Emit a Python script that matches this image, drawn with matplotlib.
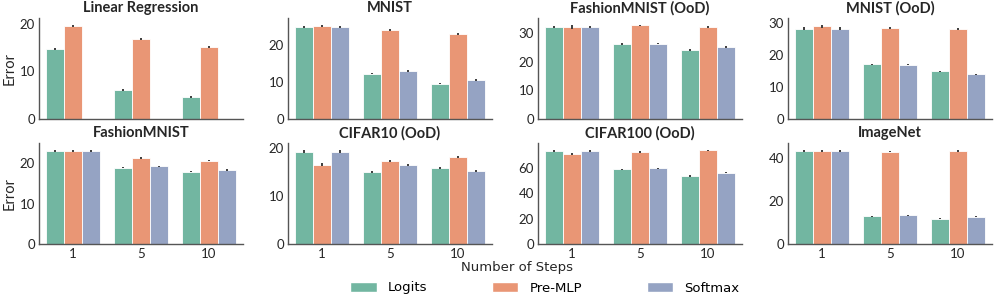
import numpy as np
import matplotlib
matplotlib.use("Agg")
import matplotlib.pyplot as plt
import colorsys
from matplotlib.patches import Patch

steps = ["1", "5", "10"]
methods = ["Logits", "Pre-MLP", "Softmax"]
titles = ["Linear Regression", "MNIST", "FashionMNIST (OoD)", "MNIST (OoD)",
          "FashionMNIST", "CIFAR10 (OoD)", "CIFAR100 (OoD)", "ImageNet"]

# values[panel] = [Logits, Pre-MLP, Softmax] each over steps 1, 5, 10
linreg_logits = [14.7, 6.1, 4.6]
linreg_premlp = [19.6, 16.8, 15.1]
linreg_softmax = [np.nan, np.nan, np.nan]

mnist_logits = [25.0, 12.3, 9.6]
mnist_premlp = [25.3, 24.1, 23.1]
mnist_softmax = [25.0, 13.0, 10.6]

fmnist_ood_logits = [32.0, 26.1, 24.0]
fmnist_ood_premlp = [32.0, 32.6, 32.1]
fmnist_ood_softmax = [32.0, 26.3, 25.1]

mnist_ood_logits = [28.3, 17.2, 15.0]
mnist_ood_premlp = [29.1, 28.6, 28.1]
mnist_ood_softmax = [28.3, 17.0, 14.0]

fmnist_logits = [23.1, 19.0, 18.0]
fmnist_premlp = [23.2, 21.4, 20.7]
fmnist_softmax = [23.1, 19.3, 18.4]

cifar10_ood_logits = [19.2, 14.9, 15.7]
cifar10_ood_premlp = [16.5, 17.3, 18.1]
cifar10_ood_softmax = [19.2, 16.4, 15.2]

cifar100_ood_logits = [73.6, 59.3, 53.8]
cifar100_ood_premlp = [71.5, 72.8, 74.1]
cifar100_ood_softmax = [73.6, 60.0, 56.4]

imagenet_logits = [43.4, 12.9, 11.8]
imagenet_premlp = [43.4, 43.1, 43.4]
imagenet_softmax = [43.4, 13.4, 12.8]

# error bar half-widths (small)
err_linreg = [[0.2, 0.15, 0.15], [0.2, 0.2, 0.15], [0, 0, 0]]
err_mnist = [[0.35, 0.2, 0.2], [0.3, 0.3, 0.3], [0.35, 0.2, 0.2]]
err_fmnist_ood = [[0.4, 0.25, 0.25], [0.6, 0.3, 0.3], [0.4, 0.25, 0.25]]
err_mnist_ood = [[0.4, 0.2, 0.2], [0.5, 0.4, 0.3], [0.4, 0.2, 0.2]]
err_fmnist = [[0.2, 0.2, 0.2], [0.25, 0.25, 0.2], [0.2, 0.2, 0.15]]
err_cifar10_ood = [[0.4, 0.2, 0.2], [0.25, 0.2, 0.2], [0.4, 0.25, 0.25]]
err_cifar100_ood = [[0.5, 0.4, 0.5], [0.8, 0.5, 0.6], [0.5, 0.5, 0.5]]
err_imagenet = [[0.5, 0.3, 0.3], [0.4, 0.4, 0.6], [0.4, 0.3, 0.3]]

panels = [
    (linreg_logits, linreg_premlp, linreg_softmax, err_linreg),
    (mnist_logits, mnist_premlp, mnist_softmax, err_mnist),
    (fmnist_ood_logits, fmnist_ood_premlp, fmnist_ood_softmax, err_fmnist_ood),
    (mnist_ood_logits, mnist_ood_premlp, mnist_ood_softmax, err_mnist_ood),
    (fmnist_logits, fmnist_premlp, fmnist_softmax, err_fmnist),
    (cifar10_ood_logits, cifar10_ood_premlp, cifar10_ood_softmax, err_cifar10_ood),
    (cifar100_ood_logits, cifar100_ood_premlp, cifar100_ood_softmax, err_cifar100_ood),
    (imagenet_logits, imagenet_premlp, imagenet_softmax, err_imagenet),
]
yticks = [[0, 10, 20], [0, 10, 20], [0, 10, 20, 30], [0, 10, 20, 30],
          [0, 10, 20], [0, 10, 20], [0, 20, 40, 60], [0, 20, 40]]

base = ["#66c2a5", "#fc8d62", "#8da0cb"]
def desat(c, p=0.75):
    r, g, b = matplotlib.colors.to_rgb(c)
    h, l, s = colorsys.rgb_to_hls(r, g, b)
    return colorsys.hls_to_rgb(h, l, s * p)
colors = [desat(c) for c in base]

W, H = 996, 301
fig = plt.figure(figsize=(W / 100, H / 100), dpi=100)
lefts = [39, 288, 538, 788]
aw = 204
rows = [(18, 119), (143, 244)]

tickfont = "Lato"
x = np.arange(3)
bw = 0.8 / 3
for i, (lg, pm, sm, er) in enumerate(panels):
    r, c = divmod(i, 4)
    top, bot = rows[r]
    ax = fig.add_axes([lefts[c] / W, 1 - bot / H, aw / W, (bot - top) / H])
    for k, vals in enumerate([lg, pm, sm]):
        vals = np.array(vals, dtype=float)
        pos = x + (k - 1) * bw
        ax.bar(pos, vals, width=bw, color=colors[k], edgecolor="white",
               linewidth=0.6, zorder=2)
        ok = ~np.isnan(vals)
        ax.errorbar(pos[ok], vals[ok], yerr=np.array(er[k])[ok], fmt="none",
                    ecolor="#3d3d3d", elinewidth=1.4, capsize=0, zorder=3)
    ax.set_xlim(-0.5, 2.5)
    ax.margins(y=0.07)
    ax.set_yticks(yticks[i])
    ax.set_xticks(x)
    if r == 1:
        ax.set_xticklabels(steps, fontfamily=tickfont, fontsize=9.5)
    else:
        ax.set_xticklabels([])
    ax.set_yticklabels([str(t) for t in yticks[i]], fontfamily=tickfont, fontsize=9.5)
    ax.tick_params(length=0, pad=3, colors="#262626")
    for s in ["top", "right"]:
        ax.spines[s].set_visible(False)
    for s in ["left", "bottom"]:
        ax.spines[s].set_color("#555555")
        ax.spines[s].set_linewidth(1.0)
    ax.set_title(titles[i], fontfamily="Lato", fontweight="bold", fontsize=10.5,
                 color="#262626", pad=4)
    if c == 0:
        ax.set_ylabel("Error", fontfamily="Lato", fontsize=10.5, color="#262626", labelpad=2)

fig.text(517 / W, 1 - 268 / H, "Number of Steps", ha="center", va="center",
         fontsize=9.5, color="#262626", fontfamily="DejaVu Sans")
handles = [Patch(facecolor=colors[k], edgecolor="white", label=methods[k]) for k in range(3)]
fig.legend(handles=handles, loc="center", bbox_to_anchor=(545 / W, 1 - 288 / H),
           ncol=3, frameon=False, columnspacing=4.9, handlelength=2.0,
           handleheight=0.7, handletextpad=0.85, borderpad=0,
           prop={"family": "DejaVu Sans", "size": 9.5})

fig.savefig("out.png", dpi=100)
